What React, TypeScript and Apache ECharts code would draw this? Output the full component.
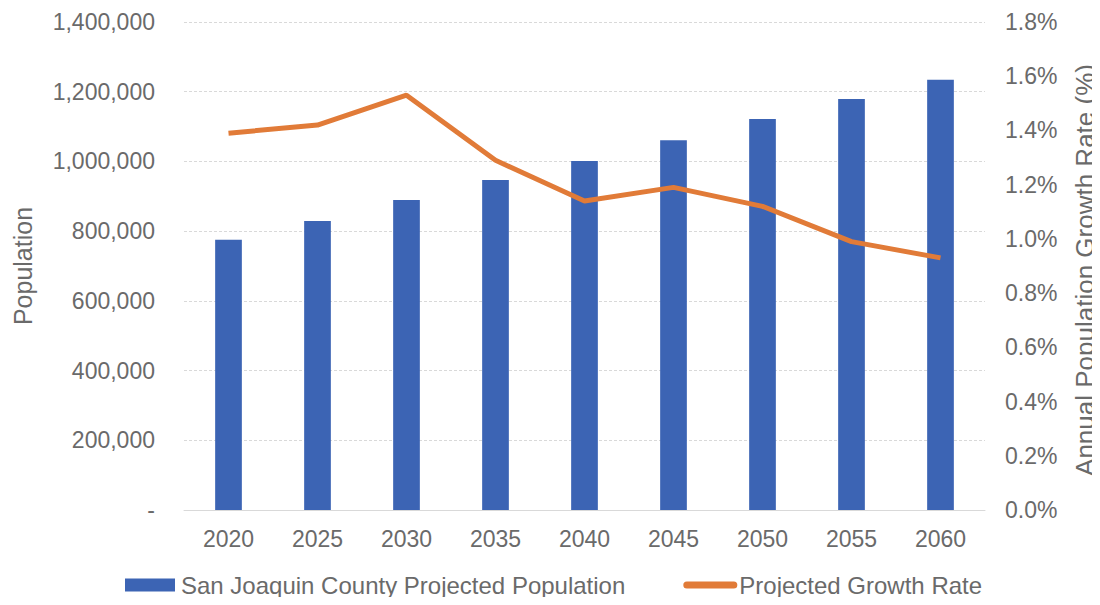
import React, { useEffect, useRef } from "react";
import * as echarts from "echarts";

const years = ["2020", "2025", "2030", "2035", "2040", "2045", "2050", "2055", "2060"];
const population = [775000, 829000, 889000, 947000, 1001000, 1061000, 1122000, 1179000, 1234000];
const growthRate = [1.39, 1.42, 1.53, 1.29, 1.14, 1.19, 1.12, 0.99, 0.93];
const popName = "San Joaquin County Projected Population";
const rateName = "Projected Growth Rate";
const leftAxisName = "Population";
const rightAxisName = "Annual Population Growth Rate (%)";

const FONT = "'Liberation Sans', Arial, sans-serif";
const TEXT = "#6a6a6a";
const BAR_ICON = "path://M0,0 M54,13 M0,0 L50,0 L50,13 L0,13 Z";
const LINE_ICON =
  "path://M0,0 M54,13 M3.5,3 L50.5,3 A3.5,3.5 0 0 1 50.5,10 L3.5,10 A3.5,3.5 0 0 1 3.5,3 Z";

export default function App() {
  const ref = useRef<HTMLDivElement>(null);
  useEffect(() => {
    const chart = echarts.init(ref.current!, null, { renderer: "svg" });
    chart.setOption({
      animation: false,
      backgroundColor: "#ffffff",
      textStyle: { fontFamily: FONT, color: TEXT },
      grid: { left: 184, right: 115, top: 22, bottom: 95, outerBoundsMode: "none", containLabel: false },
      legend: {
        top: 573,
        left: 125,
        itemWidth: 54,
        itemHeight: 13,
        itemGap: 58,
        padding: 0,
        textStyle: { fontSize: 24, color: TEXT, fontFamily: FONT, padding: [0, 0, 0, -3] },
        data: [
          { name: popName, icon: BAR_ICON },
          { name: rateName, icon: LINE_ICON },
        ],
      },
      graphic: [
        {
          type: "text",
          x: 23,
          y: 266,
          rotation: Math.PI / 2,
          style: { text: leftAxisName, fontSize: 25, fill: TEXT, fontFamily: FONT, align: "center", verticalAlign: "middle" },
        },
        {
          type: "text",
          x: 1085,
          y: 270,
          rotation: Math.PI / 2,
          style: { text: rightAxisName, fontSize: 26, fill: TEXT, fontFamily: FONT, align: "center", verticalAlign: "middle" },
        },
      ],
      xAxis: {
        type: "category",
        data: years,
        axisLine: { show: true, lineStyle: { color: "#d9d9d9" } },
        axisTick: { show: false },
        axisLabel: { color: TEXT, fontSize: 23, margin: 17, fontFamily: FONT },
      },
      yAxis: [
        {
          type: "value",
          min: 0,
          max: 1400000,
          interval: 200000,
          axisLine: { show: false },
          axisTick: { show: false },
          axisLabel: {
            color: TEXT,
            fontSize: 23,
            margin: 29,
            fontFamily: FONT,
            formatter: (v: number) => (v === 0 ? "-" : v.toLocaleString("en-US")),
          },
          splitLine: { lineStyle: { color: "#d9d9d9", type: [3, 2] } },
        },
        {
          type: "value",
          min: 0,
          max: 1.8,
          interval: 0.2,
          position: "right",
          axisLine: { show: false },
          axisTick: { show: false },
          axisLabel: {
            color: TEXT,
            fontSize: 23,
            margin: 20,
            fontFamily: FONT,
            formatter: (v: number) => v.toFixed(1) + "%",
          },
          splitLine: { show: false },
        },
      ],
      series: [
        {
          name: popName,
          type: "bar",
          data: population,
          barWidth: "30%",
          itemStyle: { color: "#3c64b4" },
          yAxisIndex: 0,
        },
        {
          name: rateName,
          type: "line",
          data: growthRate,
          yAxisIndex: 1,
          showSymbol: false,
          symbol: "none",
          lineStyle: { color: "#e17b38", width: 5 },
          itemStyle: { color: "#e17b38" },
        },
      ],
    });
    return () => chart.dispose();
  }, []);
  return <div ref={ref} style={{ width: 1100, height: 605, margin: -8 }} />;
}
